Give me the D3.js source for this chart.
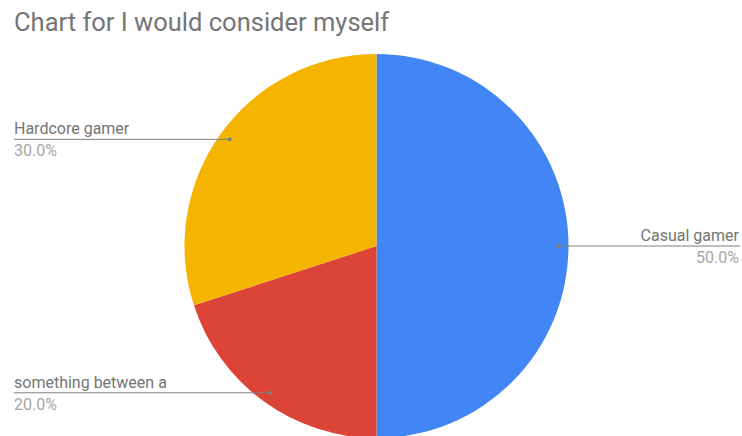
<!DOCTYPE html>
<html><head><meta charset="utf-8">
<script src="https://cdn.jsdelivr.net/npm/d3@7"></script>
<style>body{margin:0;background:#fff}svg{display:block}</style>
</head><body>
<script>
const categories = ["Casual gamer", "something between a", "Hardcore gamer"];
const values = [50, 20, 30];
const colors = ["#4285f4", "#db4437", "#f4b400"];
const title = "Chart for I would consider myself";

const W = 742, H = 436, cx = 376.5, cy = 246, R = 192;
const svg = d3.select("body").append("svg").attr("width", W).attr("height", H)
  .style("font-family", "Roboto, sans-serif");
svg.append("rect").attr("width", W).attr("height", H).attr("fill", "#fff");
svg.append("text").attr("x", 14).attr("y", 31).attr("font-size", 25.5)
  .attr("fill", "#757575").text(title);

const data = categories.map((c, i) => ({name: c, value: values[i], color: colors[i]}));
const pie = d3.pie().value(d => d.value).sort(null);
const arcs = pie(data);
const arc = d3.arc().innerRadius(0).outerRadius(R);
const g = svg.append("g").attr("transform", `translate(${cx},${cy})`);
g.selectAll("path").data(arcs).join("path").attr("d", arc).attr("fill", d => d.data.color);

const total = d3.sum(values);
const fmt = d3.format(".1%");
const rDot = R * 0.945;
arcs.forEach(a => {
  const m = (a.startAngle + a.endAngle) / 2;
  const px = cx + Math.sin(m) * rDot, py = cy - Math.cos(m) * rDot;
  const right = Math.sin(m) > 0;
  const x2 = right ? 740 : 14;
  svg.append("line").attr("x1", px).attr("y1", py).attr("x2", x2).attr("y2", py)
    .attr("stroke", "#7f7f7f").attr("stroke-width", 1);
  svg.append("circle").attr("cx", px).attr("cy", py).attr("r", 2).attr("fill", "#7f7f7f");
  const anchor = right ? "end" : "start";
  const tx = right ? 739 : 14;
  svg.append("text").attr("x", tx).attr("y", py - 5).attr("text-anchor", anchor)
    .attr("font-size", 16).attr("fill", "#757575").text(a.data.name);
  svg.append("text").attr("x", tx).attr("y", py + 17).attr("text-anchor", anchor)
    .attr("font-size", 16).attr("fill", "#a6a6a6").text(fmt(a.data.value / total));
});
</script>
</body></html>
